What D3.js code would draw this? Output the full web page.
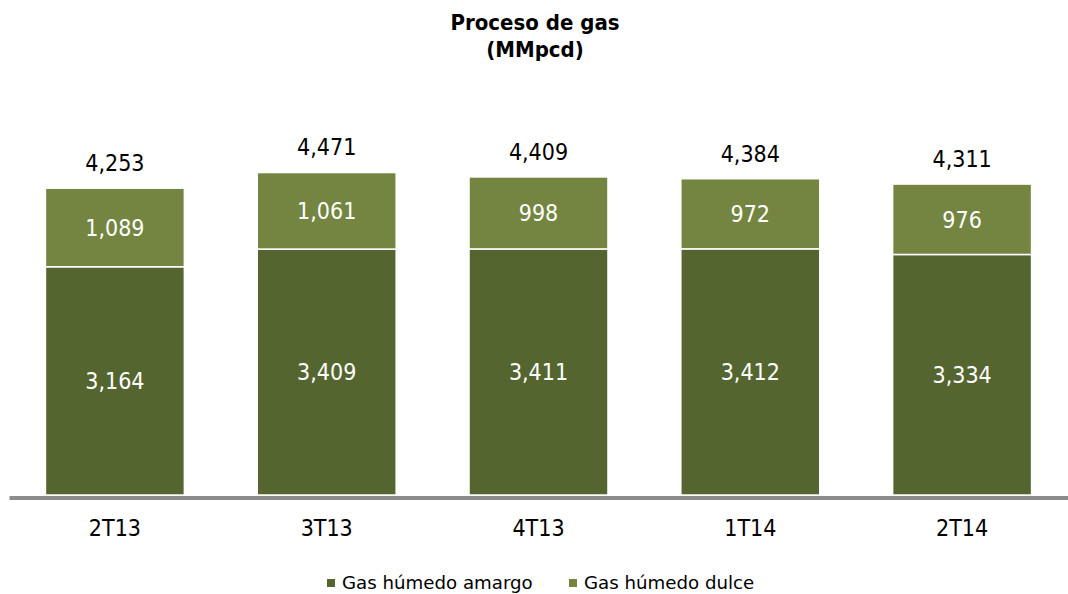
<!DOCTYPE html>
<html>
<head>
<meta charset="utf-8">
<script src="https://cdn.jsdelivr.net/npm/d3@7"></script>
<style>
  body { margin: 0; background: #fff; }
  svg text { font-family: "DejaVu Sans Condensed", "DejaVu Sans", sans-serif; }
</style>
</head>
<body>
<svg id="chart"></svg>
<script>
// data
var categories = ["2T13", "3T13", "4T13", "1T14", "2T14"]
var amargo = [3164, 3409, 3411, 3412, 3334]
var dulce = [1089, 1061, 998, 972, 976]
var totals = [4253, 4471, 4409, 4384, 4311]
var seriesNames = ["Gas húmedo amargo", "Gas húmedo dulce"]
var colors = ["#556530", "#738541"]

function drawChart() {
    let width = 1068, height = 594;
    var svg = d3.select("#chart")
        .attr("width", width)
        .attr("height", height)

    var rows = categories.map((c, i) => ({ cat: c, amargo: amargo[i], dulce: dulce[i], total: totals[i] }))
    var stacked = d3.stack().keys(["amargo", "dulce"])(rows)

    var xScale = d3.scaleBand()
        .domain(categories)
        .range([9, 1068])
        .paddingInner(0.344)
        .paddingOuter(0.172);
    var yScale = d3.scaleLinear()
        .domain([0, 4500])
        .range([495, 495 - 4500 * 0.07214]);

    // title
    svg.append("text")
        .attr("x", 535).attr("y", 30)
        .attr("text-anchor", "middle")
        .style("font-size", "22px").style("font-weight", "bold")
        .text("Proceso de gas");
    svg.append("text")
        .attr("x", 535).attr("y", 57)
        .attr("text-anchor", "middle")
        .style("font-size", "22px").style("font-weight", "bold")
        .text("(MMpcd)");

    // stacked bars
    var layers = svg.selectAll("g.layer")
        .data(stacked)
        .enter().append("g")
        .attr("class", "layer")
        .attr("fill", (d, i) => colors[i]);
    layers.selectAll("rect")
        .data(d => d)
        .enter().append("rect")
        .attr("x", d => xScale(d.data.cat))
        .attr("width", xScale.bandwidth())
        .attr("y", d => yScale(d[1]))
        .attr("height", d => yScale(d[0]) - yScale(d[1]))
        .attr("stroke", "white")
        .attr("stroke-width", 1.5);

    // labels inside segments
    layers.selectAll("text")
        .data(d => d)
        .enter().append("text")
        .attr("x", d => xScale(d.data.cat) + xScale.bandwidth() / 2)
        .attr("y", d => (yScale(d[0]) + yScale(d[1])) / 2)
        .attr("dy", "0.36em")
        .attr("text-anchor", "middle")
        .attr("fill", "white")
        .style("font-size", "23px")
        .text(d => d3.format(",")(d[1] - d[0]));

    // totals above
    svg.selectAll("text.total")
        .data(rows)
        .enter().append("text")
        .attr("class", "total")
        .attr("x", d => xScale(d.cat) + xScale.bandwidth() / 2)
        .attr("y", d => yScale(d.total) - 17)
        .attr("text-anchor", "middle")
        .attr("fill", "black")
        .style("font-size", "23px")
        .text(d => d3.format(",")(d.total));

    // x axis
    var xAxis = svg.append("g")
        .attr("transform", "translate(0,497.5)")
        .call(d3.axisBottom(xScale).tickSize(0).tickSizeOuter(0).tickPadding(22));
    xAxis.select(".domain").attr("stroke", "#8c8c8c").attr("stroke-width", 4);
    xAxis.selectAll("text")
        .attr("fill", "black")
        .style("font-size", "23px")
        .style("font-family", "'DejaVu Sans Condensed', 'DejaVu Sans', sans-serif");

    // legend
    var legendX = [327, 569]
    var legend = svg.selectAll("g.legend")
        .data(seriesNames)
        .enter().append("g")
        .attr("class", "legend")
        .attr("transform", (d, i) => "translate(" + legendX[i] + ",579)");
    legend.append("rect")
        .attr("width", 8).attr("height", 8)
        .attr("fill", (d, i) => colors[i]);
    legend.append("text")
        .attr("x", 15).attr("y", 9.5)
        .style("font-size", "18.2px")
        .style("font-family", "'DejaVu Sans', sans-serif")
        .attr("fill", "black")
        .text(d => d);
}
drawChart();
</script>
</body>
</html>
